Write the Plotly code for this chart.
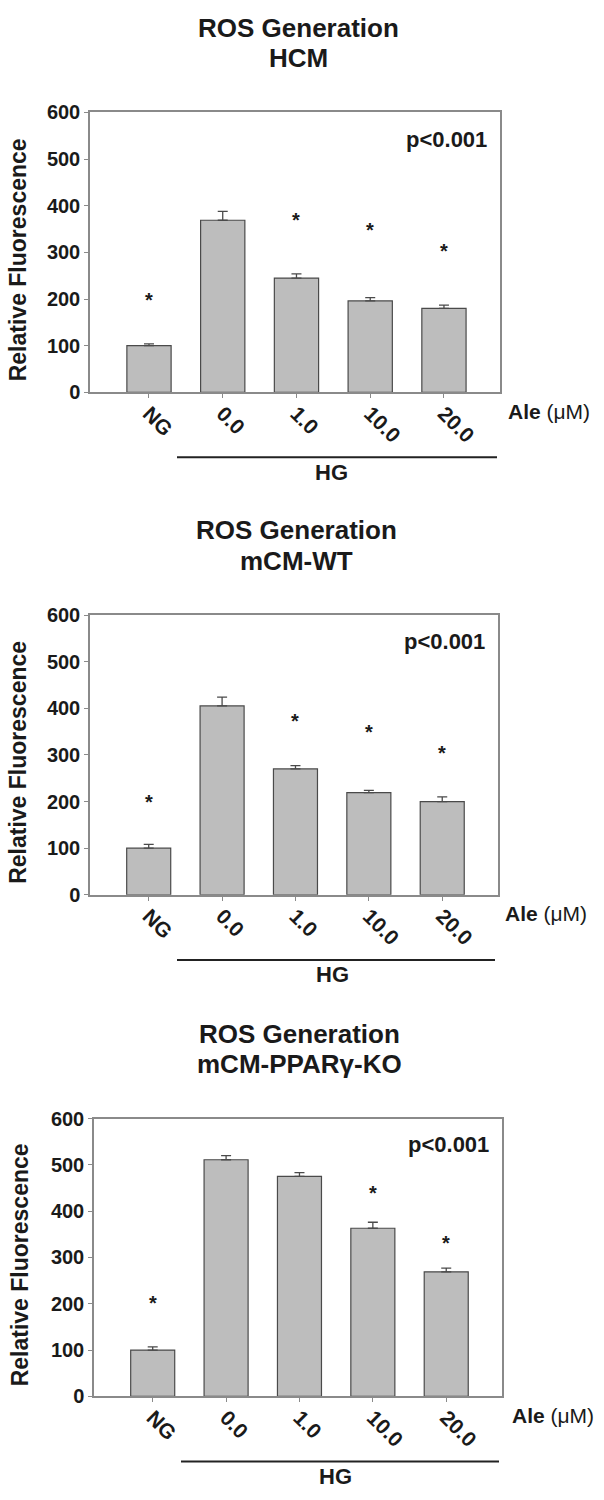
import plotly.graph_objects as go

# ---------------- data ----------------
categories = ["NG", "0.0", "1.0", "10.0", "20.0"]
panel_names = ["HCM", "mCM-WT", "mCM-PPARγ-KO"]

hcm_mean = [100, 369, 245, 196, 180]
hcm_err = [4, 19, 9, 7, 7]
wt_mean = [100, 405, 270, 219, 200]
wt_err = [8, 19, 7, 5, 10]
ko_mean = [100, 511, 475, 363, 269]
ko_err = [7, 9, 8, 13, 8]

hcm_star_y = [198, None, 370, 348, 304]
wt_star_y = [199, None, 373, 349, 304]
ko_star_y = [201, None, None, 439, 332]

y_ticks = [0, 100, 200, 300, 400, 500, 600]
p_label = "p<0.001"
x_unit_label = "<b>Ale</b> (μM)"
group_label = "HG"

means = [hcm_mean, wt_mean, ko_mean]
errs = [hcm_err, wt_err, ko_err]
stars = [hcm_star_y, wt_star_y, ko_star_y]

# ---------------- layout geometry (pixels) ----------------
W, H = 604, 1500
# left, top, right, bottom of each plot box
boxes = [(90, 103, 500, 387), (90, 613, 498, 897), (94, 1124, 502, 1406)]
title_x = [298, 296, 299]
ytitle_x = [18, 18, 20]
ale_x = [549, 546, 553]
hg_x = [331, 332, 335]

FONT = "Liberation Sans, Arial, sans-serif"
TXT = "#1a1a1a"
AXC = "#8a8a8a"


def py(p):
    return 1 - p / H


def px(p):
    return p / W


fig = go.Figure()
annotations = []
shapes = []

for i in range(3):
    l, t, r, b = boxes[i]
    xa = "x" if i == 0 else f"x{i+1}"
    ya = "y" if i == 0 else f"y{i+1}"
    xkey = "xaxis" if i == 0 else f"xaxis{i+1}"
    ykey = "yaxis" if i == 0 else f"yaxis{i+1}"

    fig.add_trace(go.Bar(
        x=categories, y=means[i], xaxis=xa, yaxis=ya, width=0.6,
        marker=dict(color="#bdbdbd", line=dict(color="#4a4a4a", width=1.2)),
        error_y=dict(type="data", symmetric=False, array=errs[i],
                     arrayminus=[0] * len(errs[i]), color="#4a4a4a",
                     thickness=1.3, width=5),
        showlegend=False, hoverinfo="skip",
    ))

    fig.update_layout(**{
        xkey: dict(domain=[px(l), px(r)], anchor=ya, range=[-0.80, 4.76],
                   type="category", showline=True, linecolor=AXC, linewidth=1.5,
                   mirror=True, ticks="outside", ticklen=4, tickcolor=AXC,
                   tickangle=45, ticklabelstandoff=-5,
                   tickfont=dict(family=FONT, size=21, color=TXT, weight="bold"),
                   showgrid=False, zeroline=False, fixedrange=True),
        ykey: dict(domain=[py(b), py(t)], anchor=xa, range=[0, 600],
                   tickvals=y_ticks, showline=True, linecolor=AXC, linewidth=1.5,
                   mirror=True, ticks="outside", ticklen=4, tickcolor=AXC,
                   tickfont=dict(family=FONT, size=20, color=TXT, weight="bold"),
                   showgrid=False, zeroline=False, fixedrange=True),
    })

    # titles
    annotations.append(dict(text="<b>ROS Generation</b>", x=px(title_x[i]),
                            y=py(t - 86), xref="paper", yref="paper",
                            showarrow=False, xanchor="center", yanchor="middle",
                            font=dict(family=FONT, size=26, color=TXT)))
    annotations.append(dict(text=f"<b>{panel_names[i]}</b>", x=px(title_x[i]),
                            y=py(t - 55), xref="paper", yref="paper",
                            showarrow=False, xanchor="center", yanchor="middle",
                            font=dict(family=FONT, size=26, color=TXT)))
    # y axis title
    annotations.append(dict(text="<b>Relative Fluorescence</b>", x=px(ytitle_x[i]),
                            y=py((t + b) / 2 + 8), xref="paper", yref="paper",
                            textangle=-90, showarrow=False, xanchor="center",
                            yanchor="middle",
                            font=dict(family=FONT, size=23, color=TXT)))
    # p value
    annotations.append(dict(text=f"<b>{p_label}</b>", x=4.03, y=543, xref=xa,
                            yref=ya, showarrow=False, xanchor="center",
                            yanchor="middle",
                            font=dict(family=FONT, size=22, color=TXT)))
    # stars (positioned by category index)
    for j, sy in enumerate(stars[i]):
        if sy is None:
            continue
        annotations.append(dict(text="<b>*</b>", x=j, y=sy, xref=xa, yref=ya,
                                showarrow=False, xanchor="center",
                                yanchor="middle", yshift=0,
                                font=dict(family=FONT, size=20, color=TXT)))
    # Ale (uM)
    annotations.append(dict(text=x_unit_label, x=px(ale_x[i]), y=py(b + 19),
                            xref="paper", yref="paper", showarrow=False,
                            xanchor="center", yanchor="middle",
                            font=dict(family=FONT, size=21, color=TXT)))
    # HG group line and label
    shapes.append(dict(type="line", xref="paper", yref="paper",
                       x0=px(l + 87), x1=px(r - 3), y0=py(b + 66), y1=py(b + 66),
                       line=dict(color="#222222", width=2)))
    annotations.append(dict(text=f"<b>{group_label}</b>", x=px(hg_x[i]),
                            y=py(b + 81), xref="paper", yref="paper",
                            showarrow=False, xanchor="center", yanchor="middle",
                            font=dict(family=FONT, size=22, color=TXT)))

fig.update_layout(width=W, height=H, autosize=False,
                  margin=dict(l=0, r=0, t=0, b=0),
                  paper_bgcolor="white", plot_bgcolor="white",
                  annotations=annotations, shapes=shapes, bargap=0.4)

fig.write_html("out.html", config={"displayModeBar": False},
               post_script="document.body.style.margin='0';"
                           "document.body.style.overflow='hidden';")
